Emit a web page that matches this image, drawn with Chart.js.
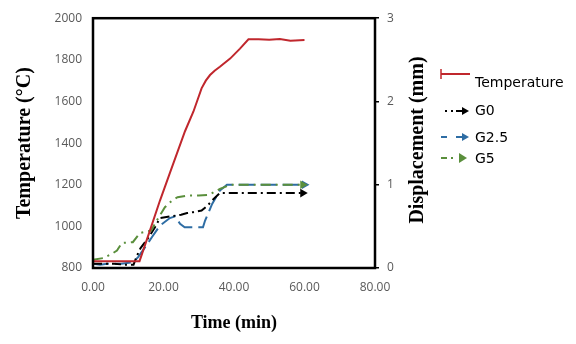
<!DOCTYPE html>
<html><head><meta charset="utf-8">
<script src="https://cdn.jsdelivr.net/npm/chart.js@4"></script>
<style>html,body{margin:0;padding:0;background:#fff}#wrap{width:576px;height:344px}</style>
</head><body><div id="wrap"><canvas id="c" width="576" height="344"></canvas></div>
<script>
// Temperature (left axis, °C)
const tempTime   = [0, 5, 10, 13.2, 16, 19, 22, 26.1, 28.5, 30.8, 32, 33.2, 34.5, 36, 38.9, 41.7, 44.1, 47, 50, 53, 56, 60];
const tempValues = [833, 833, 833, 833, 972, 1124, 1265, 1457, 1552, 1663, 1700, 1727, 1748, 1767, 1806, 1854, 1899, 1899, 1896, 1900, 1892, 1895];
// Displacement (right axis, mm)
const g0Time   = [0, 3, 6, 9, 11.5, 12.5, 13.5, 15.5, 17.6, 19, 22, 25, 26.7, 28.4, 30.8, 32.5, 34, 36, 40, 45, 50, 55, 59.5];
const g0Values = [0.05, 0.05, 0.05, 0.04, 0.04, 0.15, 0.24, 0.35, 0.49, 0.6, 0.62, 0.64, 0.66, 0.67, 0.69, 0.75, 0.82, 0.9, 0.9, 0.9, 0.9, 0.9, 0.9];
const g25Time   = [0, 2, 4, 8, 11.3, 12.8, 14.8, 16.7, 19, 21.8, 23.3, 24.7, 26, 31.2, 31.8, 33.8, 36, 38, 45, 50, 55, 60];
const g25Values = [0.05, 0.04, 0.05, 0.05, 0.07, 0.13, 0.25, 0.37, 0.51, 0.6, 0.62, 0.53, 0.49, 0.49, 0.57, 0.77, 0.93, 1.0, 1.0, 1.0, 1.0, 1.0];
const g5Time   = [0, 3, 5.7, 6.8, 8.2, 11.3, 13.3, 16.5, 18.5, 20.4, 22.4, 24, 27, 30, 33, 36, 39, 45, 50, 55, 59.5];
const g5Values = [0.1, 0.12, 0.18, 0.21, 0.3, 0.31, 0.42, 0.45, 0.6, 0.73, 0.81, 0.85, 0.87, 0.87, 0.88, 0.95, 1.0, 1.0, 1.0, 1.0, 1.0];
// Tick settings
const xTicks = {min: 0, max: 80, step: 20};
const yTicks = {min: 800, max: 2000, step: 200};
const y1Ticks = {min: 0, max: 3, step: 1};
const seriesNames = ['Temperature', 'G0', 'G2.5', 'G5'];

const RED = '#c0272d', BLACK = '#000000', BLUE = '#2e6da4', GREEN = '#5a8f3c';

function pts(t, v){ return t.map((x,i)=>({x:x, y:v[i]})); }
function lastOnly(r){ return ctx => ctx.dataIndex === ctx.dataset.data.length-1 ? r : 0; }

const framePlugin = {
  id: 'frame',
  afterDraw(chart){
    const {ctx, chartArea:a} = chart;
    ctx.save();
    ctx.strokeStyle = '#000'; ctx.lineWidth = 2.5;
    ctx.strokeRect(a.left, a.top, a.right - a.left, a.bottom - a.top);
    // right axis title (bottom-to-top)
    ctx.translate(418, 140); ctx.rotate(-Math.PI/2);
    ctx.fillStyle = '#000'; ctx.textAlign = 'center'; ctx.textBaseline = 'middle';
    ctx.font = 'bold 20px "Liberation Serif"';
    ctx.fillText('Displacement (mm)', 0, 0);
    ctx.restore();
    // legend
    ctx.save();
    ctx.font = '14px "DejaVu Sans"'; ctx.textBaseline = 'middle'; ctx.textAlign = 'left';
    ctx.fillStyle = '#000';
    // Temperature
    ctx.strokeStyle = RED; ctx.lineWidth = 2;
    ctx.beginPath(); ctx.moveTo(441, 74); ctx.lineTo(470, 74); ctx.stroke();
    ctx.lineWidth = 1.5; ctx.beginPath(); ctx.moveTo(441, 69); ctx.lineTo(441, 79); ctx.stroke();
    ctx.fillText(seriesNames[0], 475, 83);
    function arrow(x, y, col){
      ctx.strokeStyle = col; ctx.fillStyle = col; ctx.lineWidth = 2;
      ctx.beginPath(); ctx.moveTo(x, y); ctx.lineTo(x+8, y); ctx.stroke();
      ctx.beginPath(); ctx.moveTo(x+13, y); ctx.lineTo(x+6, y-4); ctx.lineTo(x+6, y+4); ctx.closePath(); ctx.fill();
    }
    // G0
    ctx.fillStyle = BLACK;
    ctx.fillRect(445, 110, 2, 2); ctx.fillRect(451, 110, 2, 2);
    arrow(456, 111, BLACK);
    ctx.fillStyle = '#000'; ctx.fillText(seriesNames[1], 475, 111);
    // G2.5
    ctx.fillStyle = BLUE; ctx.fillRect(441, 136, 6, 2);
    arrow(456, 137, BLUE);
    ctx.fillStyle = '#000'; ctx.fillText(seriesNames[2], 475, 138);
    // G5
    ctx.fillStyle = GREEN; ctx.fillRect(441, 157, 6, 2); ctx.fillRect(451, 157, 2, 2);
    ctx.beginPath(); ctx.moveTo(467, 158); ctx.lineTo(459, 153); ctx.lineTo(459, 163); ctx.closePath(); ctx.fill();
    ctx.fillStyle = '#000'; ctx.fillText(seriesNames[3], 475, 159);
    ctx.restore();
  }
};

const tickFont = {family: '"Open Sans"', size: 12};
new Chart(document.getElementById('c'), {
  type: 'line',
  data: {
    datasets: [
      {label: seriesNames[0], order: 0, data: pts(tempTime, tempValues), yAxisID: 'y', borderColor: RED, borderWidth: 2, pointRadius: 0, tension: 0},
      {label: seriesNames[1], order: 2, data: pts(g0Time, g0Values), yAxisID: 'y1', borderColor: BLACK, backgroundColor: BLACK, borderWidth: 2, borderDash: [9,4,2,4],
        pointRadius: lastOnly(5), pointStyle: 'triangle', rotation: 90, pointBorderWidth: 0, tension: 0},
      {label: seriesNames[2], order: 3, data: pts(g25Time, g25Values), yAxisID: 'y1', borderColor: BLUE, backgroundColor: BLUE, borderWidth: 2, borderDash: [16,6],
        pointRadius: lastOnly(5), pointStyle: 'triangle', rotation: 90, pointBorderWidth: 0, tension: 0},
      {label: seriesNames[3], order: 1, data: pts(g5Time, g5Values), yAxisID: 'y1', borderColor: GREEN, backgroundColor: GREEN, borderWidth: 2, borderDash: [10,5,2,5],
        pointRadius: lastOnly(5), pointStyle: 'triangle', rotation: 90, pointBorderWidth: 0, tension: 0}
    ]
  },
  options: {
    responsive: false, animation: false,
    layout: {padding: {left: 0, right: 0, top: 16, bottom: 0}},
    plugins: {legend: {display: false}, tooltip: {enabled: false}},
    scales: {
      x: {type: 'linear', min: xTicks.min, max: xTicks.max,
        afterFit(s){ s.height = 76; },
        grid: {display: false, drawTicks: false}, border: {display: false},
        ticks: {stepSize: xTicks.step, padding: 12, font: tickFont, color: '#595959', maxRotation: 0, callback: v => Number(v).toFixed(2)},
        title: {display: true, text: 'Time (min)', color: '#000', font: {family: '"Liberation Serif"', size: 18, weight: 'bold'}, padding: {top: 0, bottom: 10}}
      },
      y: {position: 'left', min: yTicks.min, max: yTicks.max,
        afterFit(s){ s.width = 93; },
        grid: {display: false, drawTicks: false}, border: {display: false},
        ticks: {stepSize: yTicks.step, padding: 11, font: tickFont, color: '#595959', callback: v => String(v)},
        title: {display: true, text: 'Temperature (°C)', color: '#000', font: {family: '"Liberation Serif"', size: 20, weight: 'bold'}, padding: {top: 13, bottom: 0}}
      },
      y1: {position: 'right', min: y1Ticks.min, max: y1Ticks.max,
        afterFit(s){ s.width = 201; },
        grid: {display: true, drawOnChartArea: false, drawTicks: true, tickLength: 4, color: '#000', lineWidth: 1.5}, border: {display: false},
        ticks: {stepSize: y1Ticks.step, padding: 8, font: tickFont, color: '#595959'}
      }
    }
  },
  plugins: [framePlugin]
});
</script>
</body></html>
